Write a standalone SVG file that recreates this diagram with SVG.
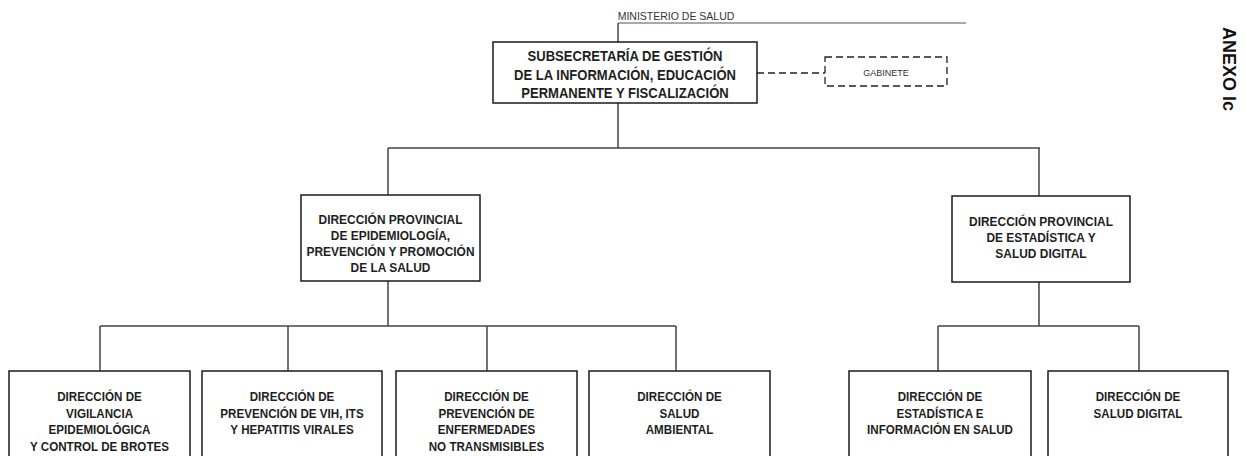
<svg xmlns="http://www.w3.org/2000/svg" width="1246" height="456" viewBox="0 0 1246 456">
<style>
.box{fill:#fff;stroke:#1a1a1a;stroke-width:1.5}
.dash{fill:none;stroke:#222;stroke-width:1.3;stroke-dasharray:7 4}
.con{fill:none;stroke:#444;stroke-width:1.5}
.t{font-family:"Liberation Sans",Arial,sans-serif;font-weight:bold;fill:#1e1e1e;text-anchor:middle}
.main{font-size:15px}
.mid{font-size:12.5px}
.low{font-size:12.5px}
</style>
<rect width="1246" height="456" fill="#fff"/>
<g id="connectors">
  <path class="con" d="M618 23 H966" stroke="#a8a8a8" style="stroke:#a8a8a8;stroke-width:2"/>
  <path class="con" d="M618 23 V42"/>
  <path class="dash" d="M757 73 H825"/>
  <path class="con" d="M618 103 V148 M388 148 H1040 M388 148 V195 M1039 148 V196"/>
  <path class="con" d="M388 281 V326 M100 326 H676 M100 326 V371 M288 326 V371 M487 326 V371 M676 326 V371"/>
  <path class="con" d="M1039 282 V326 M938 326 H1139 M938 326 V371 M1139 326 V371"/>
</g>
<g id="ministerio">
  <text x="676" y="20" style="font-family:'Liberation Sans',Arial,sans-serif;font-size:10.5px;fill:#333;text-anchor:middle">MINISTERIO DE SALUD</text>
</g>
<g id="anexo">
  <text transform="translate(1223,27) rotate(90)" x="0" y="0" style="font-family:'Liberation Sans',Arial,sans-serif;font-weight:bold;font-size:18px;fill:#111">ANEXO Ic</text>
</g>
<g id="subsecretaria">
  <rect class="box" x="493" y="42" width="264" height="61"/>
  <g transform="translate(625 0) scale(0.87 1)">
    <text class="t main" x="0" y="61">SUBSECRETARÍA DE GESTIÓN</text>
    <text class="t main" x="0" y="80">DE LA INFORMACIÓN, EDUCACIÓN</text>
    <text class="t main" x="0" y="98">PERMANENTE Y FISCALIZACIÓN</text>
  </g>
</g>
<g id="gabinete">
  <rect class="dash" x="825" y="57" width="122" height="29"/>
  <text x="886" y="76" style="font-family:'Liberation Sans',Arial,sans-serif;font-size:9px;fill:#333;text-anchor:middle">GABINETE</text>
</g>
<g id="dp-epidemiologia">
  <rect class="box" x="301" y="195" width="179" height="86"/>
  <g transform="translate(390.5 0) scale(0.955 1)">
    <text class="t mid" x="0" y="224">DIRECCIÓN PROVINCIAL</text>
    <text class="t mid" x="0" y="240">DE EPIDEMIOLOGÍA,</text>
    <text class="t mid" x="0" y="256">PREVENCIÓN Y PROMOCIÓN</text>
    <text class="t mid" x="0" y="272">DE LA SALUD</text>
  </g>
</g>
<g id="dp-estadistica">
  <rect class="box" x="952" y="196" width="178" height="86"/>
  <g transform="translate(1041 0) scale(0.955 1)">
    <text class="t mid" x="0" y="226">DIRECCIÓN PROVINCIAL</text>
    <text class="t mid" x="0" y="242">DE ESTADÍSTICA Y</text>
    <text class="t mid" x="0" y="258">SALUD DIGITAL</text>
  </g>
</g>
<g id="d-vigilancia">
  <rect class="box" x="9" y="371" width="181" height="100"/>
  <g transform="translate(99.5 0) scale(0.93 1)">
    <text class="t low" x="0" y="401">DIRECCIÓN DE</text>
    <text class="t low" x="0" y="418">VIGILANCIA</text>
    <text class="t low" x="0" y="434">EPIDEMIOLÓGICA</text>
    <text class="t low" x="0" y="451">Y CONTROL DE BROTES</text>
  </g>
</g>
<g id="d-vih">
  <rect class="box" x="202" y="371" width="180" height="100"/>
  <g transform="translate(292 0) scale(0.93 1)">
    <text class="t low" x="0" y="401">DIRECCIÓN DE</text>
    <text class="t low" x="0" y="418">PREVENCIÓN DE VIH, ITS</text>
    <text class="t low" x="0" y="434">Y HEPATITIS VIRALES</text>
  </g>
</g>
<g id="d-ent">
  <rect class="box" x="396" y="371" width="181" height="100"/>
  <g transform="translate(486.5 0) scale(0.93 1)">
    <text class="t low" x="0" y="401">DIRECCIÓN DE</text>
    <text class="t low" x="0" y="418">PREVENCIÓN DE</text>
    <text class="t low" x="0" y="434">ENFERMEDADES</text>
    <text class="t low" x="0" y="451">NO TRANSMISIBLES</text>
  </g>
</g>
<g id="d-ambiental">
  <rect class="box" x="589" y="371" width="181" height="100"/>
  <g transform="translate(679.5 0) scale(0.93 1)">
    <text class="t low" x="0" y="401">DIRECCIÓN DE</text>
    <text class="t low" x="0" y="418">SALUD</text>
    <text class="t low" x="0" y="434">AMBIENTAL</text>
  </g>
</g>
<g id="d-estadistica">
  <rect class="box" x="849" y="371" width="182" height="100"/>
  <g transform="translate(940 0) scale(0.93 1)">
    <text class="t low" x="0" y="401">DIRECCIÓN DE</text>
    <text class="t low" x="0" y="418">ESTADÍSTICA E</text>
    <text class="t low" x="0" y="434">INFORMACIÓN EN SALUD</text>
  </g>
</g>
<g id="d-salud-digital">
  <rect class="box" x="1048" y="371" width="180" height="100"/>
  <g transform="translate(1138 0) scale(0.93 1)">
    <text class="t low" x="0" y="401">DIRECCIÓN DE</text>
    <text class="t low" x="0" y="418">SALUD DIGITAL</text>
  </g>
</g>
</svg>
